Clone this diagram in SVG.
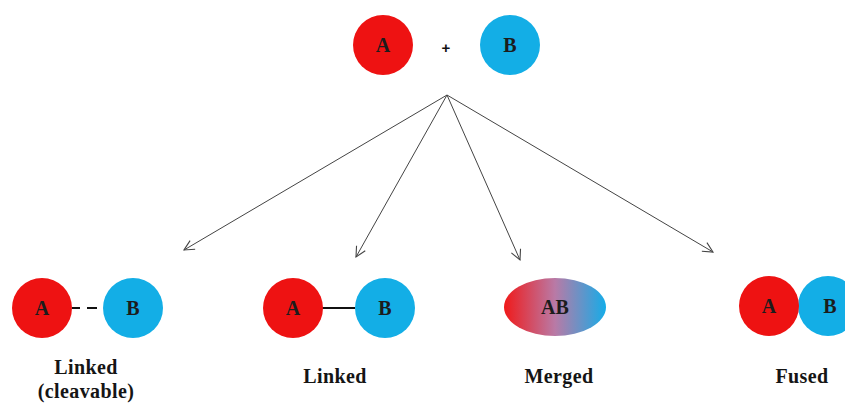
<svg xmlns="http://www.w3.org/2000/svg" width="845" height="405" viewBox="0 0 845 405">
<style>
.red{fill:#ee1212}
.blue{fill:#13aee6}
.lt{font-family:"Liberation Serif","Times New Roman",serif;font-weight:bold;font-size:20px;fill:#1c1c1c;text-anchor:middle}
.lab{font-family:"Liberation Serif","Times New Roman",serif;font-weight:bold;font-size:20px;fill:#151515;text-anchor:middle;letter-spacing:0.4px}
.conn{stroke:#444;stroke-width:1;fill:none;marker-end:url(#ah)}
</style>
<defs>
<marker id="ah" viewBox="0 0 12 12" refX="11" refY="6" markerWidth="12" markerHeight="12" markerUnits="userSpaceOnUse" orient="auto">
<path d="M1,1 L11,6 L1,11" fill="none" stroke="#444" stroke-width="1.1"/>
</marker>
<linearGradient id="grad" x1="0" y1="0" x2="1" y2="0">
<stop offset="0" stop-color="#f01a1a"/>
<stop offset="0.5" stop-color="#b97aa6"/>
<stop offset="1" stop-color="#15ace8"/>
</linearGradient>
</defs>
<rect width="845" height="405" fill="#fff"/>
<g id="connectors">
<line class="conn" x1="447" y1="95" x2="184" y2="250"/>
<line class="conn" x1="447" y1="95" x2="356" y2="257"/>
<line class="conn" x1="447" y1="95" x2="520" y2="260"/>
<line class="conn" x1="447" y1="95" x2="713" y2="252"/>
</g>
<g id="top">
<circle class="red" cx="383" cy="45" r="30"/>
<text class="lt" x="383" y="52">A</text>
<text x="446" y="53" font-family="Liberation Sans,Arial,sans-serif" font-weight="bold" font-size="15" text-anchor="middle" fill="#111">+</text>
<circle class="blue" cx="510" cy="45" r="30"/>
<text class="lt" x="510" y="52">B</text>
</g>
<g id="linked-cleavable">
<line x1="72" y1="308" x2="103" y2="308" stroke="#111" stroke-width="2" stroke-dasharray="8,7,10,100"/>
<circle class="red" cx="42" cy="308" r="30"/>
<text class="lt" x="42" y="315">A</text>
<circle class="blue" cx="133" cy="308" r="30"/>
<text class="lt" x="133" y="315">B</text>
<text class="lab" x="86" y="374">Linked</text>
<text class="lab" x="86" y="398">(cleavable)</text>
</g>
<g id="linked">
<line x1="322" y1="308" x2="355" y2="308" stroke="#111" stroke-width="2"/>
<circle class="red" cx="293" cy="308" r="30"/>
<text class="lt" x="293" y="315">A</text>
<circle class="blue" cx="385" cy="308" r="30"/>
<text class="lt" x="385" y="315">B</text>
<text class="lab" x="335" y="383">Linked</text>
</g>
<g id="merged">
<ellipse cx="555" cy="307" rx="51" ry="29" fill="url(#grad)"/>
<text class="lt" x="555" y="314">AB</text>
<text class="lab" x="559" y="383">Merged</text>
</g>
<g id="fused">
<circle class="blue" cx="828" cy="306" r="30"/>
<text class="lt" x="830" y="313">B</text>
<circle class="red" cx="769" cy="306" r="30"/>
<text class="lt" x="769" y="313">A</text>
<text class="lab" x="802" y="383">Fused</text>
</g>
</svg>
